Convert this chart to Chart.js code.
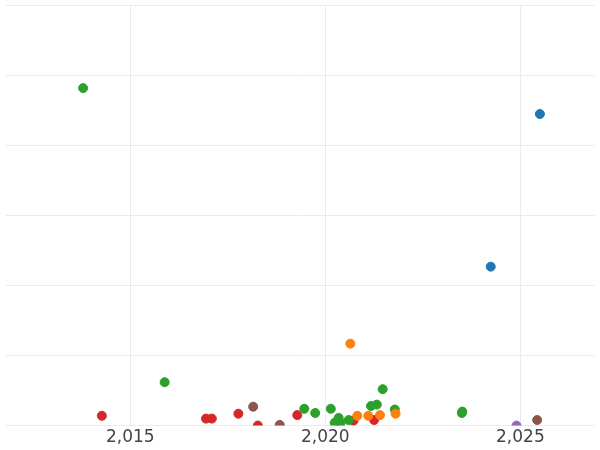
<!DOCTYPE html>
<html>
<head>
<script src="https://cdn.jsdelivr.net/npm/chart.js@4"></script>
<style>body{margin:0;background:#fff}#wrap{width:600px;height:450px}</style>
</head>
<body>
<div id="wrap"><canvas id="c"></canvas></div>
<script>
// Data arrays: [year, value]
const greenPts = [[2013.79,4.82],[2015.88,0.62],[2019.46,0.24],[2019.74,0.18],[2020.14,0.24],[2020.34,0.11],[2020.24,0.04],[2020.39,0.04],[2020.6,0.08],[2021.17,0.28],[2021.32,0.30],[2021.47,0.52],[2021.78,0.23],[2023.51,0.2],[2023.5,0.18]];
const redPts = [[2014.27,0.14],[2016.94,0.1],[2017.09,0.1],[2017.77,0.17],[2018.27,0],[2019.28,0.15],[2020.72,0.07],[2021.25,0.08]];
const brownPts = [[2018.15,0.27],[2018.83,0.01],[2025.43,0.08]];
const orangePts = [[2020.64,1.17],[2020.82,0.14],[2021.1,0.14],[2021.4,0.15],[2021.8,0.17]];
const bluePts = [[2025.5,4.45],[2024.24,2.27]];
const purplePts = [[2024.9,0]];

const xTicks = [2015, 2020, 2025];

function ds(pts, color) {
  return {
    data: pts.map(p => ({ x: p[0], y: p[1] })),
    backgroundColor: color,
    borderColor: color,
    pointRadius: 4.5,
    pointHoverRadius: 4.5,
  };
}

new Chart(document.getElementById("c"), {
  type: "scatter",
  data: {
    datasets: [
      ds(bluePts, "#1f77b4"),
      ds(orangePts, "#ff7f0e"),
      ds(greenPts, "#2ca02c"),
      ds(redPts, "#d62728"),
      ds(purplePts, "#9467bd"),
      ds(brownPts, "#8c564b"),
    ],
  },
  options: {
    responsive: true,
    maintainAspectRatio: false,
    animation: false,
    layout: { padding: 0 },
    plugins: { legend: { display: false }, tooltip: { enabled: false } },
    scales: {
      x: {
        type: "linear",
        min: 2011.8,
        max: 2026.9,
        afterBuildTicks: (axis) => { axis.ticks = xTicks.map(v => ({ value: v })); },
        ticks: { color: "#444", font: { family: "DejaVu Sans", size: 17 }, padding: 2 },
        grid: { color: "#ebebeb", lineWidth: 1, drawTicks: false },
        border: { display: false },
      },
      y: {
        min: 0,
        max: 6,
        ticks: { stepSize: 1, display: false },
        grid: { color: "#ebebeb", lineWidth: 1, drawTicks: false },
        border: { display: false },
        afterFit: (axis) => { axis.width = 0; },
      },
    },
  },
});
</script>
</body>
</html>
